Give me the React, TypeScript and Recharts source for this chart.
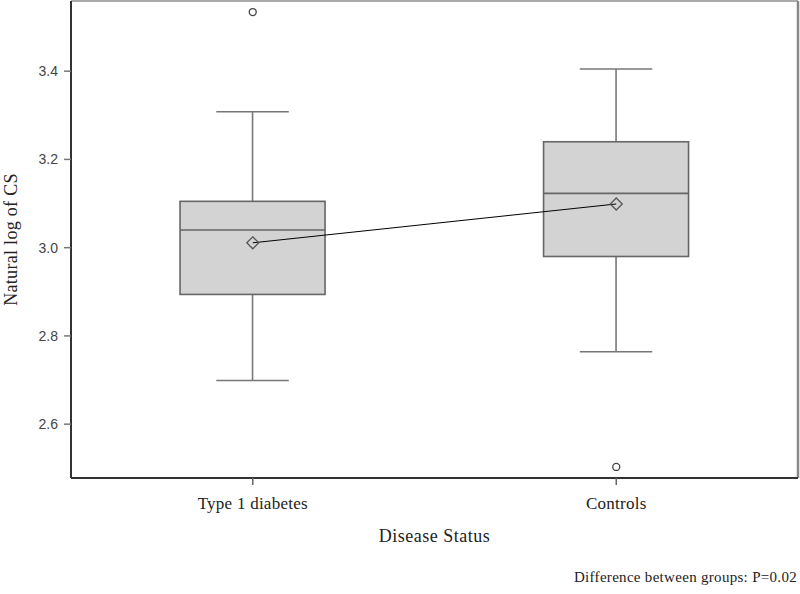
import React from 'react';
import { ComposedChart, Bar, Line, XAxis, YAxis, CartesianGrid } from 'recharts';

const categories = ['Type 1 diabetes', 'Controls'];
const whiskerLow = [2.699, 2.764];
const quartile1 = [2.894, 2.98];
const medians = [3.04, 3.123];
const quartile3 = [3.105, 3.24];
const whiskerHigh = [3.308, 3.405];
const means = [3.011, 3.099];
const outliers = [3.534, 2.503];
const yTicks = [2.6, 2.8, 3.0, 3.2, 3.4];
const yDomain: [number, number] = [2.478, 3.559];

const data = categories.map((name, i) => ({
  name,
  lo: whiskerLow[i],
  q1: quartile1[i],
  med: medians[i],
  q3: quartile3[i],
  hi: whiskerHigh[i],
  mean: means[i],
  outlier: outliers[i],
  range: [whiskerLow[i], whiskerHigh[i]],
}));

const SERIF = "'Liberation Serif', 'Times New Roman', serif";
const BOX_STROKE = '#666';

const BoxShape = (props: any) => {
  const { x, y, width, height, payload } = props;
  if (!payload) return null;
  const top = Math.min(y, y + height);
  const bot = Math.max(y, y + height);
  const toY = (v: number) => bot - ((v - payload.lo) / (payload.hi - payload.lo)) * (bot - top);
  const cx = x + width / 2;
  const capHalf = width / 4;
  const yHi = toY(payload.hi);
  const yLo = toY(payload.lo);
  const yQ3 = toY(payload.q3);
  const yQ1 = toY(payload.q1);
  const yMed = toY(payload.med);
  return (
    <g>
      <line x1={cx} x2={cx} y1={yHi} y2={yQ3} stroke="#777" strokeWidth={1.6} />
      <line x1={cx - capHalf} x2={cx + capHalf} y1={yHi} y2={yHi} stroke="#777" strokeWidth={1.6} />
      <line x1={cx} x2={cx} y1={yQ1} y2={yLo} stroke="#777" strokeWidth={1.6} />
      <line x1={cx - capHalf} x2={cx + capHalf} y1={yLo} y2={yLo} stroke="#777" strokeWidth={1.6} />
      <rect x={x} y={yQ3} width={width} height={yQ1 - yQ3} fill="#d3d3d3" stroke={BOX_STROKE} strokeWidth={1.6} />
      <line x1={x} x2={x + width} y1={yMed} y2={yMed} stroke={BOX_STROKE} strokeWidth={1.6} />
    </g>
  );
};

const DiamondDot = (props: any) => {
  const { cx, cy, index } = props;
  if (cx == null || cy == null) return <g key={`d${index}`} />;
  const s = 6;
  return (
    <path
      key={`d${index}`}
      d={`M${cx},${cy - s} L${cx + s},${cy} L${cx},${cy + s} L${cx - s},${cy} Z`}
      fill="none"
      stroke="#555"
      strokeWidth={1.3}
    />
  );
};

const CircleDot = (props: any) => {
  const { cx, cy, index } = props;
  if (cx == null || cy == null) return <g key={`o${index}`} />;
  return <circle key={`o${index}`} cx={cx} cy={cy} r={3.5} fill="#fff" stroke="#444" strokeWidth={1.3} />;
};

const YLabel = (props: any) => {
  const vb = props.viewBox || { x: 0, y: 1, width: 71, height: 477 };
  const cy = vb.y + vb.height / 2;
  const x = 17;
  return (
    <text
      x={x}
      y={cy}
      transform={`rotate(-90, ${x}, ${cy})`}
      textAnchor="middle"
      fontFamily={SERIF}
      fontSize={18}
      letterSpacing={0.3}
      fill="#222"
    >
      Natural log of CS
    </text>
  );
};

const XLabel = (props: any) => {
  const vb = props.viewBox || { x: 72, y: 478, width: 725, height: 116 };
  return (
    <text
      x={vb.x + vb.width / 2}
      y={vb.y + 64}
      textAnchor="middle"
      fontFamily={SERIF}
      fontSize={18}
      letterSpacing={0.5}
      fill="#222"
    >
      Disease Status
    </text>
  );
};

export default function App() {
  return (
    <div style={{ position: 'absolute', left: 0, top: 0, width: 800, height: 594, background: '#fff' }}>
      <ComposedChart
        width={800}
        height={594}
        data={data}
        margin={{ top: 1, right: 2, left: 0, bottom: 0 }}
        barCategoryGap="30%"
      >
        <CartesianGrid
          vertical={false}
          horizontal
          stroke="#aaa"
          strokeWidth={2}
          horizontalCoordinatesGenerator={(p: any) => [p.offset.top]}
        />
        <CartesianGrid
          horizontal={false}
          vertical
          stroke="#888"
          strokeWidth={2.5}
          verticalCoordinatesGenerator={(p: any) => [p.offset.left + p.offset.width]}
        />
        <XAxis
          dataKey="name"
          type="category"
          height={116}
          axisLine={{ stroke: '#333', strokeWidth: 2 }}
          tickLine={{ stroke: '#666', strokeWidth: 1.5 }}
          tickSize={7}
          tickMargin={12}
          tick={{ fontFamily: SERIF, fontSize: 17, fill: '#222', letterSpacing: 0.25 }}
          label={<XLabel />}
        />
        <YAxis
          type="number"
          domain={yDomain}
          allowDataOverflow
          ticks={yTicks}
          width={71}
          axisLine={{ stroke: '#333', strokeWidth: 2 }}
          tickLine={{ stroke: '#777', strokeWidth: 1.5 }}
          tickSize={7}
          tickMargin={6}
          tickFormatter={(v: number) => v.toFixed(1)}
          tick={{ fontFamily: "'Liberation Sans', Arial, sans-serif", fontSize: 14, fill: '#444' }}
          label={<YLabel />}
        />
        <Bar dataKey="range" shape={<BoxShape />} isAnimationActive={false} />
        <Line
          dataKey="mean"
          stroke="#000"
          strokeWidth={1}
          dot={DiamondDot}
          activeDot={false}
          isAnimationActive={false}
        />
        <Line
          dataKey="outlier"
          stroke="none"
          dot={CircleDot}
          activeDot={false}
          isAnimationActive={false}
        />
      </ComposedChart>
      <div
        style={{
          position: 'absolute',
          right: 3,
          top: 570,
          fontFamily: SERIF,
          fontSize: 15,
          lineHeight: '15px',
          letterSpacing: 0.3,
          color: '#222',
          whiteSpace: 'nowrap',
        }}
      >
        Difference between groups: P=0.02
      </div>
    </div>
  );
}
